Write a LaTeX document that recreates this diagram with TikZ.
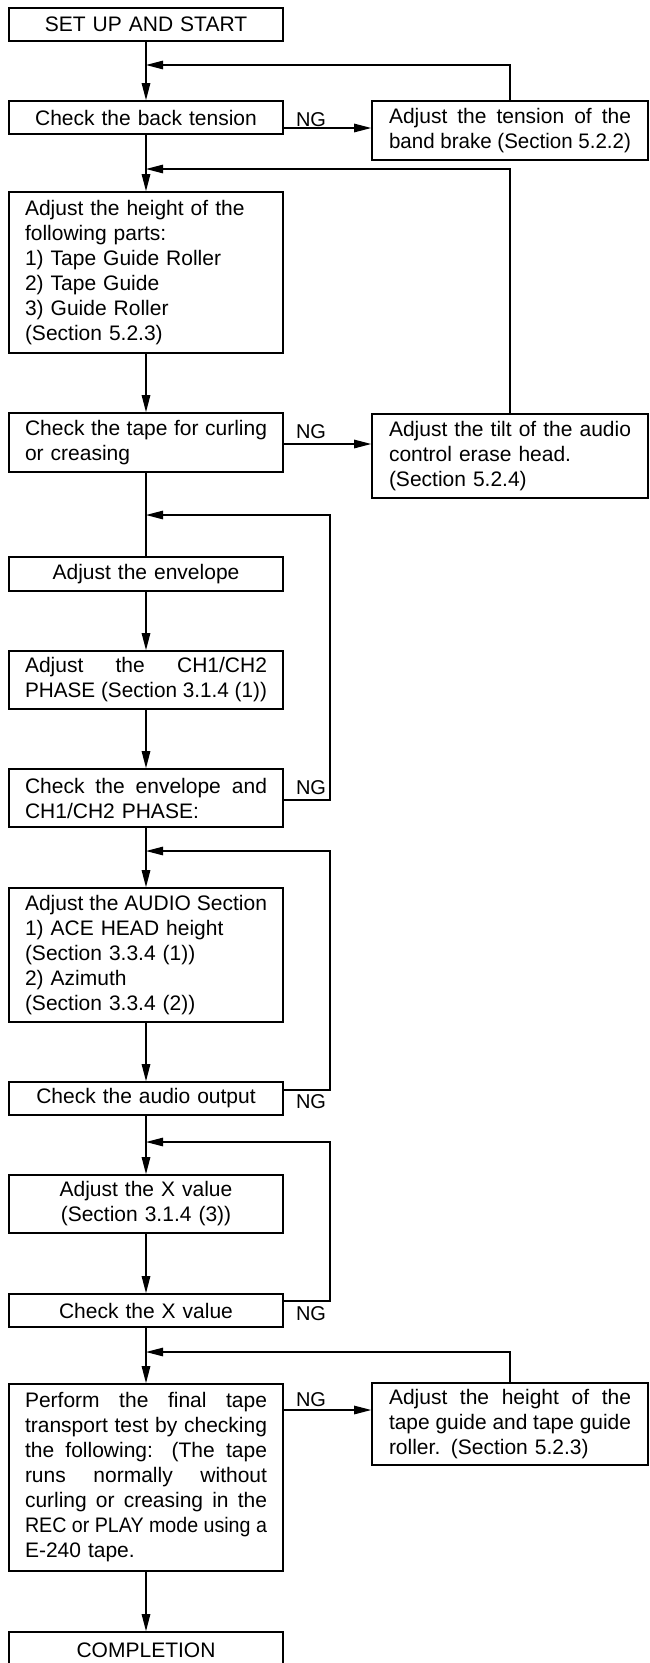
\documentclass[tikz,border=0pt]{standalone}
\usepackage{graphicx}
\usepackage{fontspec}
\setmainfont{Liberation Sans}
\usetikzlibrary{arrows.meta}
\newsavebox\jbox
\newcommand{\J}[1]{{\spaceskip=0pt\xspaceskip=0pt\sbox\jbox{#1}%
  \ifdim\wd\jbox>242pt\relax\resizebox{242pt}{\height}{\usebox\jbox}%
  \else\makebox[242pt][s]{#1}\fi}}
\tikzset{
  box/.style={draw, line width=1.6pt, inner sep=0pt, text width=242pt,
    font=\fontsize{21}{25}\selectfont},
  lbox/.style={box, minimum width=274pt},
  rbox/.style={box, minimum width=276pt},
  conn/.style={line width=1.2pt},
  arr/.style={conn, -{Triangle[length=17pt,width=8.5pt]}},
  lbl/.style={font=\fontsize{20}{25}\selectfont, inner sep=0pt}
}
\begin{document}
\begin{tikzpicture}[x=1pt,y=-1pt]
\useasboundingbox (0,0) rectangle (649,1663);
% left column
\node[lbox, align=center, minimum height=33pt] (start) at (146,24.5) {SET UP AND START};
\node[lbox, align=center, minimum height=33pt] (tension) at (146,117.5) {Check the back tension};
\node[lbox, align=left, minimum height=161pt] (height) at (146,272.5) {Adjust the height of the\\following parts:\\1) Tape Guide Roller\\2) Tape Guide\\3) Guide Roller\\(Section 5.2.3)};
\node[lbox, align=left, minimum height=59pt] (curl) at (146,442.5) {\J{Check the tape for curling}\\or creasing};
\node[lbox, align=center, minimum height=34pt] (env) at (146,574) {Adjust the envelope};
\node[lbox, align=left, minimum height=58pt] (phase) at (146,680) {\J{Adjust the CH1/CH2}\\\J{PHASE (Section 3.1.4 (1))}};
\node[lbox, align=left, minimum height=58pt] (chkenv) at (146,798) {\J{Check the envelope and}\\CH1/CH2 PHASE:};
\node[lbox, align=left, minimum height=134pt] (audio) at (146,955) {\J{Adjust the AUDIO Section}\\1) ACE HEAD height\\(Section 3.3.4 (1))\\2) Azimuth\\(Section 3.3.4 (2))};
\node[lbox, align=center, minimum height=33pt] (chkaudio) at (146,1098.5) {Check the audio output};
\node[lbox, align=center, minimum height=58pt] (adjx) at (146,1204) {Adjust the X value\\(Section 3.1.4 (3))};
\node[lbox, align=center, minimum height=33pt] (chkx) at (146,1310.5) {Check the X value};
\node[lbox, align=left, minimum height=187pt] (final) at (146,1477.5) {\J{Perform the final tape}\\\J{transport test by checking}\\\J{the following: (The tape}\\\J{runs normally without}\\\J{curling or creasing in the}\\\J{REC or PLAY mode using a}\\E-240 tape.};
\node[lbox, align=center, minimum height=36pt] (done) at (146,1650) {COMPLETION};
% right column
\node[rbox, align=left, minimum height=59pt] (r1) at (510,130.5) {\J{Adjust the tension of the}\\\J{band brake (Section 5.2.2)}};
\node[rbox, align=left, minimum height=84pt] (r2) at (510,456) {\J{Adjust the tilt of the audio}\\control erase head.\\(Section 5.2.4)};
\node[rbox, align=left, minimum height=82pt] (r3) at (510,1424) {\J{Adjust the height of the}\\\J{tape guide and tape guide}\\roller. (Section 5.2.3)};
% NG labels
\node[lbl] (ng1) at (311,120) {NG};
\node[lbl] (ng2) at (311,432) {NG};
\node[lbl] (ng3) at (311,788) {NG};
\node[lbl] (ng4) at (311,1102) {NG};
\node[lbl] (ng5) at (311,1314) {NG};
\node[lbl] (ng6) at (311,1400) {NG};
% junctions on the main line
\coordinate (j1) at (146,65);
\coordinate (j2) at (146,169);
\coordinate (j3) at (146,515);
\coordinate (j4) at (146,851);
\coordinate (j5) at (146,1142);
\coordinate (j6) at (146,1352);
% NG levels
\coordinate (y1) at (0,128);
\coordinate (y2) at (0,444);
\coordinate (y3) at (0,800);
\coordinate (y4) at (0,1090);
\coordinate (y5) at (0,1301);
\coordinate (y6) at (0,1410);
% loop corners
\coordinate (c3) at (330,800);
\coordinate (c4) at (330,1090);
\coordinate (c5) at (330,1301);
% main flow
\draw[arr] (start) -- (tension);
\draw[arr] (tension) -- (height);
\draw[arr] (height) -- (curl);
\draw[conn] (curl) -- (env);
\draw[arr] (env) -- (phase);
\draw[arr] (phase) -- (chkenv);
\draw[arr] (chkenv) -- (audio);
\draw[arr] (audio) -- (chkaudio);
\draw[arr] (chkaudio) -- (adjx);
\draw[arr] (adjx) -- (chkx);
\draw[arr] (chkx) -- (final);
\draw[arr] (final) -- (done);
% NG to right boxes
\draw[arr] (tension.east |- y1) -- (r1.west |- y1);
\draw[arr] (curl.east |- y2) -- (r2.west |- y2);
\draw[arr] (final.east |- y6) -- (r3.west |- y6);
% returns from right boxes
\draw[arr] (r1.north) |- (j1);
\draw[arr] (r2.north) |- (j2);
\draw[arr] (r3.north) |- (j6);
% loops
\draw[arr] (chkenv.east |- y3) -- (c3) |- (j3);
\draw[arr] (chkaudio.east |- y4) -- (c4) |- (j4);
\draw[arr] (chkx.east |- y5) -- (c5) |- (j5);
\end{tikzpicture}
\end{document}
